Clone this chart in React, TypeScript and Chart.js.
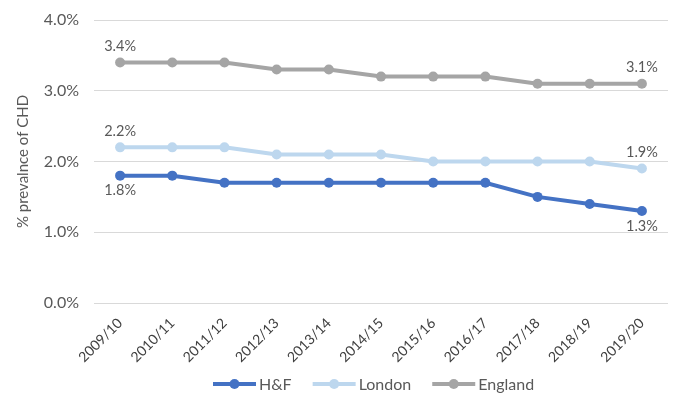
import React, { useEffect, useRef } from "react";
import { Chart, registerables } from "chart.js";

Chart.register(...registerables);

const categories = ["2009/10", "2010/11", "2011/12", "2012/13", "2013/14", "2014/15", "2015/16", "2016/17", "2017/18", "2018/19", "2019/20"];
const hfValues = [1.8, 1.8, 1.7, 1.7, 1.7, 1.7, 1.7, 1.7, 1.5, 1.4, 1.3];
const londonValues = [2.2, 2.2, 2.2, 2.1, 2.1, 2.1, 2.0, 2.0, 2.0, 2.0, 1.9];
const englandValues = [3.4, 3.4, 3.4, 3.3, 3.3, 3.2, 3.2, 3.2, 3.1, 3.1, 3.1];
const seriesNames = ["H&F", "London", "England"];
const seriesColors = ["#4472C4", "#BDD7EE", "#A5A5A5"];
const yTicks = [0, 1, 2, 3, 4];

const FONT = "Lato, 'Liberation Sans', sans-serif";

export default function App() {
  const ref = useRef<HTMLCanvasElement | null>(null);
  useEffect(() => {
    document.body.style.margin = "0";
    const canvas = ref.current!;
    const labelPlugin = {
      id: "customLabels",
      afterDatasetsDraw(chart: any) {
        const ctx = chart.ctx;
        ctx.save();
        ctx.font = `14.5px ${FONT}`;
        ctx.fillStyle = "#595959";
        ctx.textAlign = "center";
        ctx.textBaseline = "middle";
        chart.data.datasets.forEach((ds: any, di: number) => {
          const meta = chart.getDatasetMeta(di);
          const last = ds.data.length - 1;
          [0, last].forEach((i) => {
            const pt = meta.data[i];
            const below = di === 0;
            const dy = below ? 15 : -16;
            ctx.fillText(`${ds.data[i].toFixed(1)}%`, pt.x, pt.y + dy);
          });
        });
        ctx.restore();
      },
      afterDraw(chart: any) {
        const ctx = chart.ctx;
        ctx.save();
        ctx.font = `16px ${FONT}`;
        ctx.textBaseline = "middle";
        const y = 384;
        const lineW = 43;
        const gapText = 3;
        const gapItem = 21;
        const widths = seriesNames.map((n) => lineW + gapText + ctx.measureText(n).width);
        let x = 213;
        seriesNames.forEach((n, i) => {
          ctx.strokeStyle = seriesColors[i];
          ctx.lineWidth = 4;
          ctx.beginPath();
          ctx.moveTo(x, y);
          ctx.lineTo(x + lineW, y);
          ctx.stroke();
          ctx.fillStyle = seriesColors[i];
          ctx.beginPath();
          ctx.arc(x + lineW / 2, y, 5, 0, Math.PI * 2);
          ctx.fill();
          ctx.fillStyle = "#595959";
          ctx.textAlign = "left";
          ctx.fillText(n, x + lineW + gapText, y + 1);
          x += widths[i] + gapItem;
        });
        ctx.restore();
      },
    };
    const mk = (label: string, data: number[], color: string) => ({
      label,
      data,
      borderColor: color,
      backgroundColor: color,
      borderWidth: 4,
      pointRadius: 5,
      pointBackgroundColor: color,
      pointBorderColor: color,
      pointBorderWidth: 0,
      tension: 0,
    });
    const chart = new Chart(canvas, {
      type: "line",
      data: {
        labels: categories,
        datasets: [
          mk(seriesNames[0], hfValues, seriesColors[0]),
          mk(seriesNames[1], londonValues, seriesColors[1]),
          mk(seriesNames[2], englandValues, seriesColors[2]),
        ],
      },
      options: {
        animation: false,
        responsive: false,
        layout: { padding: { top: 20, right: 5, left: 0, bottom: 0 } },
        plugins: { legend: { display: false }, tooltip: { enabled: false } },
        scales: {
          x: {
            offset: true,
            grid: { display: false },
            border: { display: false },
            ticks: {
              minRotation: 45,
              maxRotation: 45,
              autoSkip: false,
              padding: 4,
              color: "#404040",
              font: { family: FONT, size: 14 },
            },
            afterFit(scale: any) {
              scale.height = 91;
            },
          },
          y: {
            min: 0,
            max: 4,
            afterBuildTicks(scale: any) {
              scale.ticks = yTicks.map((v) => ({ value: v }));
            },
            grid: { color: "#D9D9D9", lineWidth: 1, drawTicks: false },
            border: { display: false },
            ticks: {
              padding: 15,
              color: "#595959",
              font: { family: FONT, size: 16 },
              callback: (v: any) => `${Number(v).toFixed(1)}%`,
            },
            title: {
              display: true,
              text: "% prevalnce of CHD",
              color: "#595959",
              font: { family: FONT, size: 15 },
              padding: { top: 14, bottom: 0 },
            },
            afterFit(scale: any) {
              scale.width = 94;
              scale.paddingTop = 0;
              scale.paddingBottom = 0;
            },
          },
        },
      },
      plugins: [labelPlugin],
    });
    return () => chart.destroy();
  }, []);
  return (
    <div style={{ width: 673, height: 394, background: "#fff" }}>
      <canvas ref={ref} width={673} height={394} style={{ display: "block" }} />
    </div>
  );
}
